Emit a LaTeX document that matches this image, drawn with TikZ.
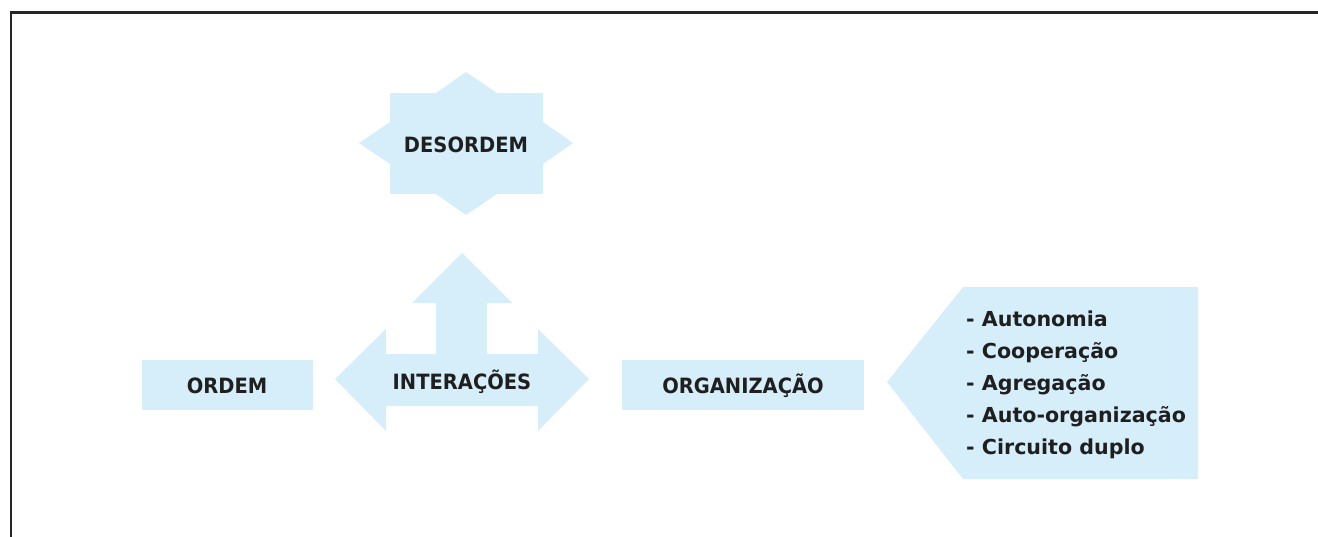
\documentclass[tikz,border=0pt]{standalone}
\usepackage{fontspec}
\setmainfont{DejaVu Sans}
\begin{document}
\begin{tikzpicture}[x=1pt,y=-1pt,
  shapefill/.style={fill=lightblue,draw=none},
  lbl/.style={font=\bfseries\fontsize{19.5}{23}\selectfont,text=black!88,inner sep=0pt,anchor=base},
  item/.style={font=\bfseries\fontsize{20.6}{24}\selectfont,text=black!88,inner sep=0pt,anchor=base west}]
\definecolor{lightblue}{RGB}{213,238,250}
\useasboundingbox (0,0) rectangle (1318,536);
% frame
\draw[line width=2.6pt,black!85] (11,545) -- (11,12.5) -- (1330,12.5);
% DESORDEM star
\path[shapefill] (390,93) -- (436,93) -- (466,72) -- (497,93) -- (543,93) -- (543,122) -- (573,143) -- (543,164) -- (543,194) -- (497,194) -- (466,215) -- (436,194) -- (390,194) -- (390,164) -- (359,143) -- (390,122) -- cycle;
\node[lbl] (desordem) at (466,152) {\scalebox{1}[1.08]{DESORDEM}};
% INTERACOES arrow
\path[shapefill] (462,253) -- (512,303) -- (487,303) -- (487,354) -- (538,354) -- (538,329) -- (589,379) -- (538,431) -- (538,406) -- (386,406) -- (386,431) -- (335,379) -- (386,329) -- (386,354) -- (436,354) -- (436,303) -- (412,303) -- cycle;
\node[lbl] (interacoes) at (462,389) {\scalebox{1}[1.08]{INTERAÇÕES}};
% ORDEM
\path[shapefill] (142,360) rectangle (313,410);
\node[lbl] (ordem) at (227,393) {\scalebox{1}[1.08]{ORDEM}};
% ORGANIZACAO
\path[shapefill] (622,360) rectangle (864,410);
\node[lbl] (organizacao) at (743,393) {\scalebox{1}[1.08]{ORGANIZAÇÃO}};
% list pentagon
\path[shapefill] (887,382) -- (963,287) -- (1198,287) -- (1198,479) -- (963,479) -- cycle;
\node[item] (i1) at (966,326) {- Autonomia};
\node[item] (i2) at (966,358) {- Cooperação};
\node[item] (i3) at (966,390) {- Agregação};
\node[item] (i4) at (966,422) {- Auto-organização};
\node[item] (i5) at (966,454) {- Circuito duplo};
\end{tikzpicture}
\end{document}
